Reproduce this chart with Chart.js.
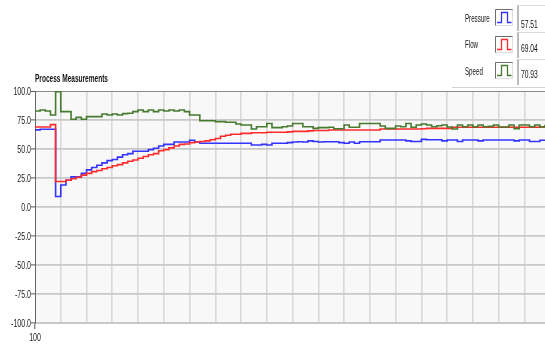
<!DOCTYPE html>
<html>
<head>
<meta charset="utf-8">
<script src="https://cdn.jsdelivr.net/npm/chart.js@4/dist/chart.umd.min.js"></script>
<style>
  html, body { margin: 0; padding: 0; background: #ffffff; }
  #wrap { position: relative; width: 545px; height: 347px; overflow: hidden; }
  #chart { position: absolute; left: 0; top: 0; }
  .txt {
    position: absolute; white-space: nowrap; line-height: 11px;
    font: 11px "Liberation Sans", Arial, sans-serif; color: #111;
    transform-origin: left top;
  }
  .title { font-weight: bold; }
  .icon { position: absolute; }
  .val {
    position: absolute; width: 30px; height: 26px; background: #ffffff;
    border-left: 2px solid #bcbcbc; border-top: 1px solid #dadada; box-sizing: border-box;
  }
  .sep { position: absolute; left: 452px; width: 93px; top: 87px; height: 1px; background: #d2d2d2; }
</style>
</head>
<body>
<div id="wrap">
  <canvas id="chart" width="545" height="347"></canvas>
  <div id="legend"></div>
  <div class="sep"></div>
  <div class="txt title" id="title">Process Measurements</div>
</div>
<script>
// Sample axis starts at 100, one sample per unit
const startX = 100;
const seriesNames = ["Pressure", "Flow", "Speed"];
const seriesColors = ["#3333ff", "#ff2a2a", "#467a2e"];
const yTicks = [-100, -75, -50, -25, 0, 25, 50, 75, 100];

const pressure = [
  66.5, 67, 67, 67,
  9, 19, 23, 26, 26, 29,
  32, 34, 36, 38, 40, 41, 43, 45, 46, 48,
  48, 48, 49.5, 50.6, 52.6, 54, 54, 56, 56, 56,
  57.5, 56, 55, 55, 55, 55, 55, 55, 55, 55,
  55, 55, 53.4, 53.4, 54, 53.4, 55, 55, 55, 55.5,
  56, 56.3, 56, 57, 56.5, 56, 56.3, 56.3, 56.3, 55.5,
  55, 56, 55, 56.3, 56.3, 56.3, 56.3, 57.7, 57.7, 57.7,
  57.7, 57.7, 57, 56.5, 56.5, 58.3, 58, 58, 58, 57,
  57.7, 57.7, 56.5, 57.7, 57.7, 57.7, 57, 57.7, 57.7, 57.7,
  57.7, 57.7, 57.7, 57, 57.7, 57.7, 56.5, 56.5, 57.51, 57.51
];

const flow = [
  69, 69, 69, 71,
  22, 22, 23, 24.4, 25.6, 27.5,
  29, 30.5, 31.5, 33, 34, 35.5, 36.5, 38, 39.5, 40.5,
  42, 43.5, 45, 46, 48.5, 49.5, 51, 52.6, 54, 54.3,
  55.5, 56, 56.5, 57, 58, 59, 61, 61.8, 62.7, 62.7,
  63.5, 63.5, 64, 64, 64, 64.4, 64.4, 64.4, 64.4, 64.8,
  65.2, 65.2, 65.2, 65.6, 66, 66, 66, 66.4, 66.4, 66.4,
  66.4, 66.4, 66.4, 66.4, 66.4, 66.4, 66.4, 67.2, 67.2, 67.2,
  67.2, 67.2, 67.2, 67.2, 67.2, 67.5, 67.8, 67.8, 67.8, 67.8,
  67.8, 68.7, 68.7, 68.7, 68.7, 68.7, 68.7, 68.7, 68.7, 68.7,
  68.7, 68.7, 68.7, 68.7, 68.7, 68.7, 68.7, 68.7, 69.04, 69.04
];

const speed = [
  82.7, 83.6, 82.7, 79.3,
  99.4, 82.2, 82.2, 75.6, 77.3, 75.6,
  77.9, 77.9, 77.9, 80.2, 79.3, 80.2, 79.3, 80.5, 80.8, 82.2,
  83.6, 82.2, 83.6, 82.2, 83.6, 82.7, 83.6, 82.7, 83.6, 82.2,
  79.3, 79.3, 74.4, 74.4, 74.4, 73.6, 73.6, 73, 73, 71.5,
  70.7, 70.7, 67.2, 69.2, 69.2, 72, 68.4, 68.4, 69.2, 69.8,
  72, 72, 69.2, 69.2, 67.8, 68.4, 68.4, 68.7, 67.5, 67.5,
  70.7, 68.7, 68.7, 72, 72, 72, 72, 69.8, 67.8, 67.8,
  69.8, 69.2, 72, 68.7, 70.7, 71.5, 70.7, 69.2, 70.1, 70.7,
  69, 67.2, 70.7, 69.2, 70.7, 69.2, 70.7, 69.2, 69.5, 70.7,
  69, 69, 70.7, 67.5, 70.7, 70.7, 69.2, 70.7, 69, 70.93
];

const seriesValues = [pressure, flow, speed];
const lastX = startX + pressure.length - 1;
const FONT = '"Liberation Sans", Arial, sans-serif';
const NARROW = 0.64;   // horizontal squeeze for the narrow axis lettering

function toPoints(arr) {
  return arr.map((v, i) => ({ x: startX + i, y: v }));
}

// light plot background behind the grid
const plotBackground = {
  id: 'plotBackground',
  beforeDraw(chart) {
    const { ctx, chartArea: a } = chart;
    ctx.save();
    ctx.fillStyle = '#f8f8f8';
    ctx.fillRect(a.left, a.top, a.right - a.left, a.bottom - a.top);
    ctx.restore();
  }
};

// narrow tick lettering, placed from the scales' own ticks
function narrowText(ctx, text, x, y, align) {
  ctx.save();
  ctx.translate(x, y);
  ctx.scale(NARROW, 1);
  ctx.textAlign = align;
  ctx.textBaseline = 'middle';
  ctx.fillText(text, 0, 0);
  ctx.restore();
}
const narrowTicks = {
  id: 'narrowTicks',
  afterDraw(chart) {
    const { ctx, scales } = chart;
    ctx.save();
    ctx.fillStyle = '#222222';
    ctx.font = '11px ' + FONT;
    const ys = scales.y;
    ys.ticks.forEach(t => {
      narrowText(ctx, Number(t.value).toFixed(1), ys.right - 4, ys.getPixelForValue(t.value) + 1, 'right');
    });
    const xs = scales.x;
    xs.ticks.filter(t => t.value === startX).forEach(t => {
      narrowText(ctx, String(t.value), xs.getPixelForValue(t.value), xs.top + 15, 'center');
    });
    ctx.restore();
  }
};

const chart = new Chart(document.getElementById('chart'), {
  type: 'line',
  data: {
    datasets: seriesNames.map((name, k) => ({
      label: name,
      data: toPoints(seriesValues[k]),
      borderColor: seriesColors[k],
      borderWidth: 1.6,
      pointRadius: 0,
      stepped: true,
      fill: false,
      order: 2 - k
    }))
  },
  options: {
    responsive: false,
    animation: false,
    events: [],
    layout: { padding: { top: 91, left: 0, right: 0, bottom: 0 } },
    plugins: { legend: { display: false }, tooltip: { enabled: false }, title: { display: false } },
    scales: {
      x: {
        type: 'linear',
        min: startX,
        max: lastX,
        afterFit(scale) { scale.height = 24; },
        border: { display: true, color: '#c8c8c8', width: 1 },
        grid: {
          color: c => (c.tick && c.tick.value === startX) ? 'rgba(0,0,0,0)' : '#d9d9d9',
          lineWidth: 1.6,
          tickLength: 6,
          tickColor: c => (c.tick && c.tick.value === startX) ? '#555555' : 'rgba(0,0,0,0)',
          tickWidth: 1
        },
        ticks: {
          display: false,
          stepSize: 5,
          includeBounds: false,
          autoSkip: false,
          maxRotation: 0
        }
      },
      y: {
        min: -100,
        max: 100,
        afterFit(scale) { scale.width = 35; },
        afterBuildTicks(scale) { scale.ticks = yTicks.map(v => ({ value: v })); },
        border: { display: true, color: '#666666', width: 1 },
        grid: {
          color: c => (c.tick && c.tick.value === 100) ? '#8a8a8a' : '#c9c9c9',
          lineWidth: c => (c.tick && c.tick.value === 100) ? 1 : 1.8,
          tickLength: 4,
          tickColor: '#555555',
          tickWidth: 1
        },
        ticks: { display: false }
      }
    }
  },
  plugins: [plotBackground, narrowTicks]
});

// squeeze a text element horizontally so it spans the given width
function fitWidth(el, width) {
  const w = el.getBoundingClientRect().width;
  if (w > 0) el.style.transform = 'scaleX(' + (width / w) + ')';
}
const title = document.getElementById('title');
title.style.left = '35px';
title.style.top = '72px';
fitWidth(title, 73);

// legend rows: name, pulse icon and latest value of each series
const legend = document.getElementById('legend');
const labelTops = [11.5, 38, 65];
const valueTops = [18, 41.5, 67.5];
const boxTops = [5, 32, 59];
const iconTops = [9, 36, 62];
seriesNames.forEach((name, k) => {
  const box = document.createElement('div');
  box.className = 'val';
  box.style.left = '517px';
  box.style.top = boxTops[k] + 'px';
  legend.appendChild(box);

  const lbl = document.createElement('div');
  lbl.className = 'txt';
  lbl.style.left = '465px';
  lbl.style.top = labelTops[k] + 'px';
  lbl.style.transform = 'scaleX(0.56)';
  lbl.textContent = name;
  legend.appendChild(lbl);

  const icon = document.createElement('canvas');
  icon.className = 'icon';
  icon.width = 18; icon.height = 17;
  icon.style.left = '495px';
  icon.style.top = iconTops[k] + 'px';
  legend.appendChild(icon);
  const g = icon.getContext('2d');
  g.fillStyle = '#ffffff';
  g.fillRect(0, 0, 18, 17);
  g.strokeStyle = '#dddddd';
  g.lineWidth = 1;
  g.strokeRect(0.5, 0.5, 17, 16);
  g.strokeStyle = '#6e6e6e';
  g.beginPath();
  g.moveTo(0.5, 16.5); g.lineTo(0.5, 0.5); g.lineTo(17.5, 0.5);
  g.stroke();
  g.strokeStyle = seriesColors[k];
  g.lineWidth = 1.3;
  g.beginPath();
  g.moveTo(2, 13.5); g.lineTo(6.5, 13.5); g.lineTo(6.5, 3.5);
  g.lineTo(12.5, 3.5); g.lineTo(12.5, 13.5); g.lineTo(16.5, 13.5);
  g.stroke();

  const val = document.createElement('div');
  val.className = 'txt';
  val.style.left = '521px';
  val.style.top = valueTops[k] + 'px';
  val.style.transform = 'scaleX(0.61)';
  const arr = seriesValues[k];
  val.textContent = arr[arr.length - 1].toFixed(2);
  legend.appendChild(val);
});
</script>
</body>
</html>
